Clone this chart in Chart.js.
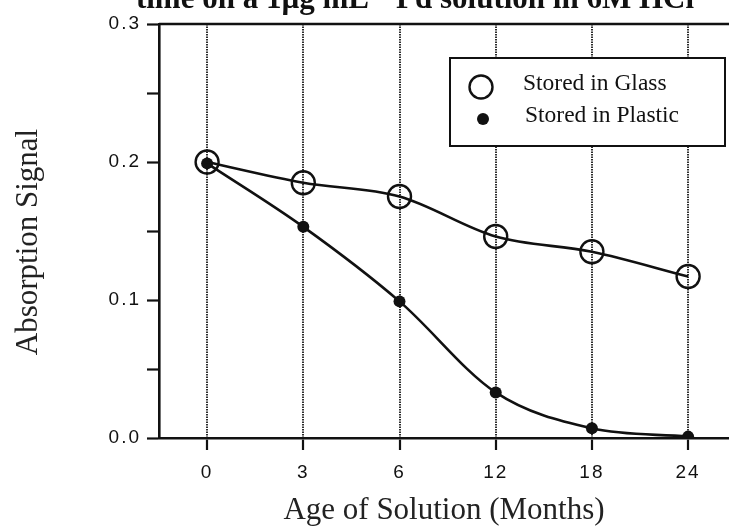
<!DOCTYPE html>
<html>
<head>
<meta charset="utf-8">
<script src="https://cdn.jsdelivr.net/npm/chart.js@4/dist/chart.umd.min.js"></script>
<style>
  html, body { margin: 0; padding: 0; background: #fff; }
  canvas { display: block; }
</style>
</head>
<body>
<canvas id="chart" width="729" height="532"></canvas>
<script>
// Storage age of the solution (months) and the absorption signal measured
const ageLabels = ['0', '3', '6', '12', '18', '24'];
const glassSignal = [0.200, 0.185, 0.175, 0.146, 0.135, 0.117];
const plasticSignal = [0.199, 0.153, 0.099, 0.033, 0.007, 0.001];
const seriesNames = ['Stored in Glass', 'Stored in Plastic'];
const titleText = 'time on a 1µg mL⁻¹ Pd solution in 6M HCl';
const xTitle = 'Age of Solution (Months)';
const yTitle = 'Absorption Signal';

const toPoints = vals => vals.map((v, i) => ({ x: i, y: v }));
const INK = '#111';
const SERIF = '"Liberation Serif", "Times New Roman", serif';
const SANS = '"Liberation Sans", Arial, sans-serif';

// Axis frame, legend box and titles drawn around the plot
const decorations = {
  id: 'decorations',
  beforeDraw(chart) {
    const ctx = chart.ctx;
    ctx.fillStyle = '#fff';
    ctx.fillRect(0, 0, chart.width, chart.height);
    ctx.letterSpacing = '2px';
  },
  afterDraw(chart) {
    const ctx = chart.ctx;
    const a = chart.chartArea;
    ctx.save();
    ctx.letterSpacing = '0px';

    // top frame line
    ctx.strokeStyle = INK;
    ctx.lineWidth = 2.5;
    ctx.beginPath();
    ctx.moveTo(a.left, a.top);
    ctx.lineTo(a.right, a.top);
    ctx.stroke();

    // legend
    const lx = 450, ly = 58, lw = 275, lh = 88;
    ctx.fillStyle = '#fff';
    ctx.fillRect(lx, ly, lw, lh);
    ctx.lineWidth = 2;
    ctx.strokeRect(lx, ly, lw, lh);
    const ds = chart.data.datasets;
    // open circle
    ctx.beginPath();
    ctx.arc(481, 87, ds[0].pointRadius, 0, Math.PI * 2);
    ctx.lineWidth = ds[0].pointBorderWidth;
    ctx.strokeStyle = ds[0].pointBorderColor;
    ctx.stroke();
    // filled dot
    ctx.beginPath();
    ctx.arc(483, 119, ds[1].pointRadius, 0, Math.PI * 2);
    ctx.fillStyle = ds[1].pointBackgroundColor;
    ctx.fill();

    ctx.fillStyle = INK;
    ctx.font = '23.5px ' + SERIF;
    ctx.textAlign = 'left';
    ctx.textBaseline = 'middle';
    ctx.fillText(ds[0].label, 523, 84);
    ctx.fillText(ds[1].label, 525, 116);

    // chart title (runs off the top edge)
    ctx.font = 'bold 31px ' + SERIF;
    ctx.textAlign = 'center';
    ctx.textBaseline = 'alphabetic';
    ctx.fillText(titleText, 415, 8);

    // axis titles
    ctx.font = '31px ' + SERIF;
    ctx.textBaseline = 'middle';
    ctx.fillStyle = '#222';
    ctx.fillText(xTitle, (a.left + a.right) / 2, 511);
    ctx.save();
    ctx.translate(29, 242);
    ctx.rotate(-Math.PI / 2);
    ctx.fillText(yTitle, 0, 0);
    ctx.restore();

    ctx.restore();
  }
};

new Chart(document.getElementById('chart'), {
  type: 'line',
  data: {
    datasets: [
      {
        label: seriesNames[0],
        data: toPoints(glassSignal),
        borderColor: INK,
        borderWidth: 2.6,
        cubicInterpolationMode: 'monotone',
        pointStyle: 'circle',
        pointRadius: 11.5,
        pointBorderWidth: 2.4,
        pointBorderColor: INK,
        pointBackgroundColor: 'rgba(0,0,0,0)',
        fill: false
      },
      {
        label: seriesNames[1],
        data: toPoints(plasticSignal),
        borderColor: INK,
        borderWidth: 2.6,
        cubicInterpolationMode: 'monotone',
        pointStyle: 'circle',
        pointRadius: 6,
        pointBorderWidth: 0,
        pointBorderColor: INK,
        pointBackgroundColor: INK,
        fill: false
      }
    ]
  },
  options: {
    responsive: false,
    animation: false,
    events: [],
    layout: { autoPadding: false, padding: { left: 0, right: 0, top: 24, bottom: 0 } },
    plugins: {
      legend: { display: false },
      title: { display: false },
      tooltip: { enabled: false }
    },
    scales: {
      x: {
        type: 'linear',
        min: -0.5,
        max: 5.425,
        afterFit: s => { s.height = 94; s.paddingLeft = 0; s.paddingRight = 0; },
        afterBuildTicks: s => { s.ticks = ageLabels.map((_, i) => ({ value: i })); },
        grid: {
          display: true,
          drawOnChartArea: true,
          drawTicks: true,
          color: '#2e2e2e',
          lineWidth: 2,
          tickLength: 12,
          tickColor: INK,
          tickWidth: 2.2
        },
        border: { display: true, color: INK, width: 2.6, dash: [1.5, 1] },
        ticks: {
          color: INK,
          padding: 11,
          font: { family: SANS, size: 19 },
          maxRotation: 0,
          callback: v => ageLabels[v]
        }
      },
      y: {
        type: 'linear',
        min: 0,
        max: 0.3,
        afterFit: s => { s.width = 159; },
        grid: {
          display: true,
          drawOnChartArea: false,
          drawTicks: true,
          tickLength: 12,
          tickColor: INK,
          tickWidth: 2.2
        },
        border: { display: true, color: INK, width: 2.6 },
        ticks: {
          stepSize: 0.05,
          color: INK,
          padding: 6,
          font: { family: SANS, size: 19 },
          callback: v => (Math.round(v * 100) % 10 === 0 ? v.toFixed(1) : '')
        }
      }
    }
  },
  plugins: [decorations]
});
</script>
</body>
</html>
